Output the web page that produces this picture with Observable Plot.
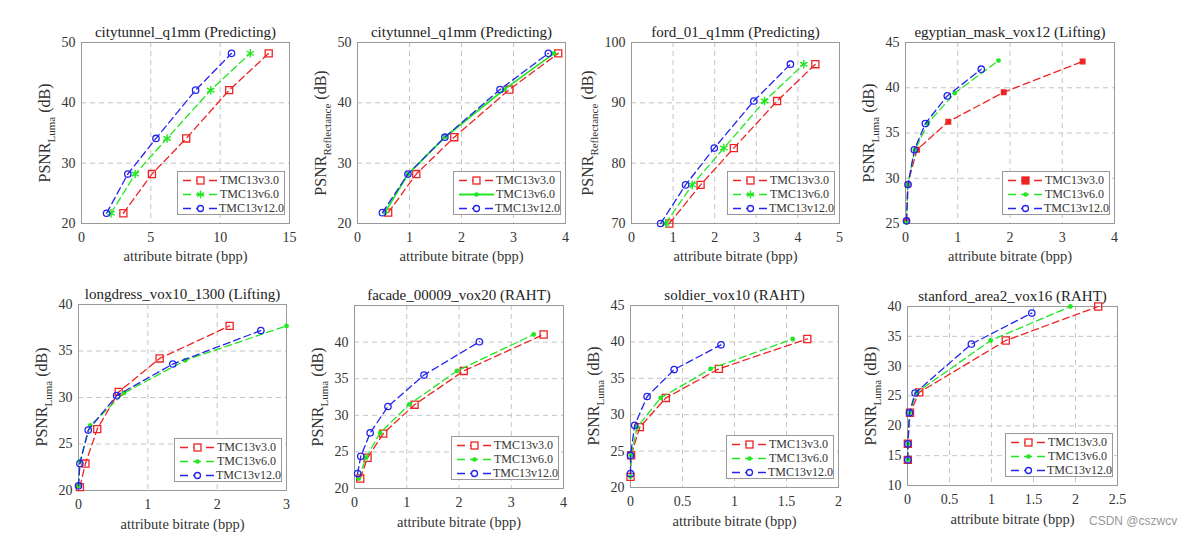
<!DOCTYPE html>
<html><head><meta charset="utf-8">
<script src="https://cdn.jsdelivr.net/npm/d3@7"></script>
<script src="https://cdn.jsdelivr.net/npm/@observablehq/plot@0.6"></script>
<style>
body{margin:0;background:#fff;}
#root{position:relative;width:1185px;height:536px;overflow:hidden;font-family:"Liberation Serif","Times New Roman",Times,"DejaVu Serif","Noto Serif",serif;}
.panel{position:absolute;}
.ylab{position:absolute;transform:translate(-50%,-50%) rotate(-90deg);white-space:nowrap;font-size:16px;color:#333;line-height:1;}
.ylab sub{font-size:11px;}
.legend{position:absolute;background:#fff;border:1px solid #999;font-size:12px;color:#333;box-sizing:border-box;padding:1px 0 0 0;}
.legend .row{display:flex;align-items:center;height:14px;}
.legend svg{margin:0 2px 0 4px;}
.wm{position:absolute;left:1089px;top:514px;font-family:"Liberation Sans",Arial,sans-serif;font-size:12px;color:#999;}
</style></head><body><div id="root"></div>
<script>
// ---- data ----
const seriesNames = ["TMC13v3.0", "TMC13v6.0", "TMC13v12.0"];
const titles = [
  "citytunnel_q1mm (Predicting)", "citytunnel_q1mm (Predicting)", "ford_01_q1mm (Predicting)", "egyptian_mask_vox12 (Lifting)",
  "longdress_vox10_1300 (Lifting)", "facade_00009_vox20 (RAHT)", "soldier_vox10 (RAHT)", "stanford_area2_vox16 (RAHT)"
];
const ySubs = ["Luma", "Reflectance", "Reflectance", "Luma", "Luma", "Luma", "Luma", "Luma"];
const xLabel = "attribute bitrate (bpp)";

const p1Bpp = [[3.02, 5.08, 7.55, 10.65, 13.5], [2.13, 3.87, 6.17, 9.32, 12.17], [1.81, 3.34, 5.37, 8.23, 10.82]];
const p1Psnr = [[21.7, 28.2, 34.1, 42.1, 48.2], [21.7, 28.2, 34.1, 42.1, 48.2], [21.7, 28.2, 34.1, 42.1, 48.2]];
const p2Bpp = [[0.59, 1.13, 1.86, 2.92, 3.86], [0.53, 0.97, 1.68, 2.82, 3.78], [0.48, 0.97, 1.68, 2.74, 3.67]];
const p2Psnr = [[21.8, 28.2, 34.3, 42.2, 48.2], [21.8, 28.2, 34.3, 42.2, 48.2], [21.8, 28.2, 34.3, 42.2, 48.2]];
const p3Bpp = [[0.91, 1.66, 2.46, 3.5, 4.42], [0.82, 1.46, 2.22, 3.2, 4.14], [0.7, 1.3, 1.99, 2.94, 3.82]];
const p3Psnr = [[70, 76.4, 82.5, 90.3, 96.4], [70, 76.4, 82.5, 90.3, 96.4], [70, 76.4, 82.5, 90.3, 96.4]];
const p4Bpp = [[0.02, 0.04, 0.22, 0.82, 1.88, 3.39], [0.02, 0.04, 0.18, 0.43, 0.94, 1.78], [0.02, 0.05, 0.17, 0.38, 0.8, 1.45]];
const p4Psnr = [[25.3, 29.3, 33.15, 36.25, 39.5, 42.9], [25.1, 29.3, 33.1, 36.1, 39.4, 43.0], [25.3, 29.3, 33.15, 36.05, 39.1, 42.05]];
const p5Bpp = [[0.02, 0.1, 0.27, 0.58, 1.17, 2.18], [0, 0.02, 0.17, 0.66, 1.54, 3.0], [0, 0.02, 0.14, 0.55, 1.36, 2.63]];
const p5Psnr = [[20.36, 22.9, 26.6, 30.6, 34.2, 37.7], [20.5, 23.15, 27.0, 30.5, 34.0, 37.7], [20.5, 22.9, 26.5, 30.2, 33.6, 37.2]];
const p6Bpp = [[0.11, 0.25, 0.55, 1.15, 2.09, 3.62], [0.08, 0.22, 0.49, 1.05, 1.96, 3.43], [0.06, 0.12, 0.3, 0.64, 1.33, 2.39]];
const p6Psnr = [[21.36, 24.2, 27.5, 31.45, 36.06, 41.04], [21.36, 24.2, 27.6, 31.5, 36.06, 41.04], [22.04, 24.4, 27.6, 31.2, 35.5, 40.05]];
const p7Bpp = [[0, 0.006, 0.09, 0.34, 0.85, 1.7], [0, 0.006, 0.064, 0.29, 0.77, 1.56], [0, 0, 0.04, 0.16, 0.42, 0.87]];
const p7Psnr = [[21.46, 24.43, 28.3, 32.3, 36.3, 40.4], [21.5, 24.43, 28.3, 32.3, 36.3, 40.4], [21.9, 24.4, 28.55, 32.5, 36.2, 39.6]];
const p8Bpp = [[0.004, 0.004, 0.03, 0.14, 1.17, 2.27], [0.004, 0.004, 0.024, 0.11, 0.99, 1.94], [0.004, 0.004, 0.024, 0.09, 0.76, 1.48]];
const p8Psnr = [[14.3, 17.0, 22.2, 25.6, 34.3, 40.0], [14.3, 17.0, 22.2, 25.6, 34.3, 40.0], [14.3, 17.0, 22.2, 25.5, 33.7, 38.9]];

const xDomains = [[0, 15], [0, 4], [0, 5], [0, 4], [0, 3], [0, 4], [0, 2], [0, 2.5]];
const yDomains = [[20, 50], [20, 50], [70, 100], [25, 45], [20, 40], [20, 45], [20, 45], [10, 40]];
const xTicks = [[0, 5, 10, 15], [0, 1, 2, 3, 4], [0, 1, 2, 3, 4, 5], [0, 1, 2, 3, 4], [0, 1, 2, 3], [0, 1, 2, 3, 4], [0, 0.5, 1, 1.5, 2], [0, 0.5, 1, 1.5, 2, 2.5]];
const yTicks = [[20, 30, 40, 50], [20, 30, 40, 50], [70, 80, 90, 100], [25, 30, 35, 40, 45], [20, 25, 30, 35, 40], [20, 25, 30, 35, 40], [20, 25, 30, 35, 40, 45], [10, 15, 20, 25, 30, 35, 40]];

const bppAll = [p1Bpp, p2Bpp, p3Bpp, p4Bpp, p5Bpp, p6Bpp, p7Bpp, p8Bpp];
const psnrAll = [p1Psnr, p2Psnr, p3Psnr, p4Psnr, p5Psnr, p6Psnr, p7Psnr, p8Psnr];

// ---- style / layout ----
const FONT = '"Liberation Serif", "Times New Roman", Times, "DejaVu Serif", "Noto Serif", serif';
const colors = ["#ee2424", "#22e622", "#2424ee"];
const greenSym = ["asterisk", "dot", "asterisk", "dot", "dot", "dot", "dot", "dot"];
const greenSolid = [false, true, false, false, false, false, false, false];
const redFilled = [false, false, false, true, false, false, false, false];
// frame boxes: left, top, right, bottom
const frames = [[81, 42, 289, 223], [357, 42, 565, 223], [631, 42, 839, 223], [905, 42, 1114, 223],
                [78, 304, 286, 490], [354, 305, 563, 488], [630, 305, 838, 487], [907, 306, 1117, 485]];

const ML = 50, MR = 12, MT = 40, MB = 45;
const root = document.getElementById("root");

function markerSvg(kind, color, filled) {
  if (kind === "square") return `<rect x="15" y="3" width="7" height="7" fill="${filled ? color : "#fff"}" stroke="${color}" stroke-width="1.3"/>`;
  if (kind === "circle") return `<circle cx="18.5" cy="6.5" r="3" fill="#fff" stroke="${color}" stroke-width="1.3"/>`;
  if (kind === "dot") return `<circle cx="18.5" cy="6.5" r="2.3" fill="${color}"/>`;
  if (kind === "asterisk") return `<g stroke="${color}" stroke-width="1.4"><line x1="18.5" y1="2.5" x2="18.5" y2="10.5"/><line x1="15" y1="4.5" x2="22" y2="8.5"/><line x1="15" y1="8.5" x2="22" y2="4.5"/></g>`;
  return "";
}

for (let i = 0; i < 8; i++) {
  const [fl, ft, fr, fb] = frames[i];
  const fw = fr - fl, fh = fb - ft;
  const rows = [];
  for (let s = 0; s < 3; s++) {
    bppAll[i][s].forEach((x, j) => rows.push({series: seriesNames[s], s, x, y: psnrAll[i][s][j]}));
  }
  const fmt = d => String(d);
  const marks = [
    Plot.gridX(xTicks[i], {stroke: "#c4c4c4", strokeOpacity: 1, strokeDasharray: "5,4"}),
    Plot.gridY(yTicks[i], {stroke: "#c4c4c4", strokeOpacity: 1, strokeDasharray: "5,4"}),
    Plot.axisX(xTicks[i], {tickSize: 0, tickPadding: 9, label: null, fill: "#333", tickFormat: fmt}),
    Plot.axisY(yTicks[i], {tickSize: 0, tickPadding: 6, label: null, fill: "#333", tickFormat: fmt}),
    Plot.frame({stroke: "#9a9a9a"})
  ];
  for (let s = 0; s < 3; s++) {
    const d = rows.filter(r => r.s === s);
    const solid = s === 1 && greenSolid[i];
    marks.push(Plot.line(d, {x: "x", y: "y", stroke: colors[s], strokeWidth: solid ? 1.8 : 1.3, strokeDasharray: solid ? null : "7,4"}));
    if (s === 0) marks.push(Plot.dot(d, {x: "x", y: "y", symbol: "square", r: redFilled[i] ? 2.6 : 4, stroke: colors[s], fill: redFilled[i] ? colors[s] : "none", strokeWidth: 1.3}));
    else if (s === 1) {
      if (greenSym[i] === "asterisk") marks.push(Plot.dot(d, {x: "x", y: "y", symbol: "asterisk", r: 4, stroke: colors[s], strokeWidth: 1.4}));
      else marks.push(Plot.dot(d, {x: "x", y: "y", r: 2.4, fill: colors[s], stroke: "none"}));
    } else marks.push(Plot.dot(d, {x: "x", y: "y", symbol: "circle", r: 3.2, stroke: colors[s], fill: "none", strokeWidth: 1.3}));
  }
  marks.push(Plot.text([titles[i]], {text: d => d, frameAnchor: "top", lineAnchor: "middle", dy: -10, fontSize: 15, fill: "#222"}));
  marks.push(Plot.text([xLabel], {text: d => d, frameAnchor: "bottom", lineAnchor: "middle", dy: i < 4 ? 33 : 34, fontSize: 14.5, fill: "#333"}));

  const chart = Plot.plot({
    width: ML + fw + MR, height: MT + fh + MB,
    marginLeft: ML, marginRight: MR, marginTop: MT, marginBottom: MB,
    style: {fontFamily: FONT, fontSize: "14px", color: "#333", background: "transparent", overflow: "visible"},
    x: {domain: xDomains[i]},
    y: {domain: yDomains[i]},
    marks
  });
  const wrap = document.createElement("div");
  wrap.className = "panel";
  wrap.style.left = (fl - ML) + "px";
  wrap.style.top = (ft - MT) + "px";
  wrap.appendChild(chart);
  root.appendChild(wrap);

  // y label with subscript
  const digits = String(yTicks[i][yTicks[i].length - 1]).length;
  const yl = document.createElement("div");
  yl.className = "ylab";
  yl.innerHTML = `PSNR<sub>${ySubs[i]}</sub> (dB)`;
  yl.style.left = (fl - (20 + 7 * digits)) + "px";
  yl.style.top = ((ft + fb) / 2) + "px";
  root.appendChild(yl);

  // legend
  const lg = document.createElement("div");
  lg.className = "legend";
  const lw = 108, lh = 44;
  lg.style.width = lw + "px"; lg.style.height = lh + "px";
  lg.style.left = (fr - 4 - lw) + "px";
  lg.style.top = (fb - 8 - lh) + "px";
  let html = "";
  for (let s = 0; s < 3; s++) {
    const solid = s === 1 && greenSolid[i];
    const kind = s === 0 ? "square" : s === 1 ? greenSym[i] : "circle";
    html += `<div class="row"><svg width="36" height="13"><line x1="1" y1="6.5" x2="36" y2="6.5" stroke="${colors[s]}" stroke-width="${solid ? 1.8 : 1.4}" ${solid ? "" : 'stroke-dasharray="8,5"'}/>${markerSvg(kind, colors[s], s === 0 && redFilled[i])}</svg><span>${seriesNames[s]}</span></div>`;
  }
  lg.innerHTML = html;
  root.appendChild(lg);
}
const wm = document.createElement("div");
wm.className = "wm";
wm.textContent = "CSDN @cszwcv";
root.appendChild(wm);
</script></body></html>
